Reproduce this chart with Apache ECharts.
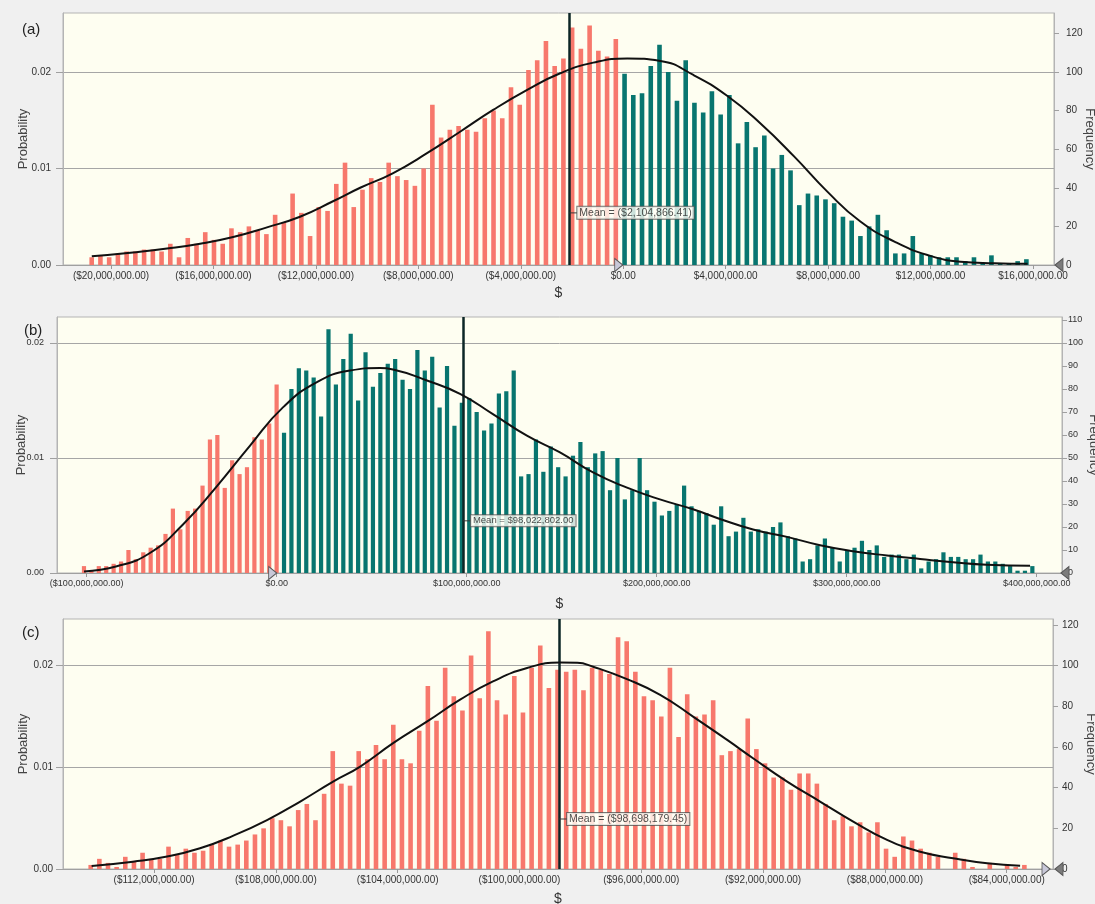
<!DOCTYPE html>
<html>
<head>
<meta charset="utf-8">
<script src="https://cdn.jsdelivr.net/npm/echarts@6/dist/echarts.min.js"></script>
<style>
  html, body { margin: 0; padding: 0; background: #f0f0f0; }
  #chart { width: 1095px; height: 904px; }
</style>
</head>
<body>
<div id="chart"></div>
<script>
// ---- data (x values in $ millions, counts out of 5000 trials) ----
const TRIALS = 5000;
const probTicks = [0, 0.01, 0.02];

// panel (a)
const freqA = [4, 5, 4, 6, 7, 7, 8, 8, 7, 11, 4, 14, 11, 17, 13, 11, 19, 17, 20, 18,
  16, 26, 22, 37, 27, 15, 30, 28, 42, 53, 30, 39, 45, 43, 53, 46, 44, 41, 50, 83,
  66, 70, 72, 70, 69, 76, 80, 76, 92, 83, 101, 106, 116, 103, 107, 123, 112, 124, 111, 108,
  117, 99, 88, 89, 103, 114, 100, 85, 106, 84, 79, 90, 78, 88, 63, 74, 61, 67, 50, 57,
  49, 31, 37, 36, 34, 32, 25, 23, 15, 20, 26, 18, 6, 6, 15, 6, 5, 4, 4, 4,
  2, 4, 1, 5, 1, 1, 2, 3];
const binsA = [-20.754, 15.742];        // first / last bin centre
const redBinsA = 61;                     // bins left of $0.00
const curveA = [[-20.75, 4.5], [-19.14, 6.5], [-17.81, 8.5], [-16.52, 11], [-15.23, 14.5],
  [-13.91, 19.5], [-12.62, 25], [-11.33, 33], [-10.27, 40], [-9.0, 47.5], [-7.66, 57.9],
  [-6.37, 69], [-5.08, 80.3], [-3.75, 90.7], [-2.46, 99.3], [-1.17, 104.8], [0.16, 107],
  [1.45, 105.7], [2.74, 98.4], [4.07, 87.5], [5.35, 73.4], [6.68, 56.1], [7.97, 38],
  [9.26, 22.5], [10.59, 12.1], [11.88, 5.2], [13.17, 1.7], [14.5, 0.9], [15.79, 0.6]];
const meanA = -2104866.41;
const xTicksA = [-20, -16, -12, -8, -4, 0, 4, 8, 12, 16];
const fTicksA = [0, 20, 40, 60, 80, 100, 120];

// panel (b)
const freqB = [3, 1, 3, 3, 4, 5, 10, 6, 9, 11, 12, 17, 28, 19, 27, 28, 38, 58, 60, 37,
  49, 43, 46, 59, 58, 65, 82, 61, 80, 89, 88, 85, 68, 106, 82, 93, 104, 75, 96, 81,
  87, 91, 93, 84, 80, 97, 88, 94, 72, 90, 64, 74, 76, 70, 62, 65, 78, 79, 88, 42,
  43, 58, 44, 55, 46, 42, 51, 57, 46, 52, 53, 36, 50, 32, 36, 50, 36, 31, 25, 27,
  30, 38, 29, 27, 26, 21, 29, 16, 18, 24, 18, 19, 18, 20, 22, 16, 15, 5, 6, 12,
  15, 11, 5, 10, 11, 14, 10, 12, 7, 8, 8, 6, 8, 2, 5, 6, 9, 7, 7, 6,
  6, 8, 5, 5, 4, 3, 1, 1, 3];
const binsB = [-101.4, 397.7];
const redBinsB = 27;
const curveB = [[-101.4, 0.7], [-84.1, 2.9], [-66.7, 8.7], [-49.3, 21.1], [-31.4, 37.8],
  [-14.1, 55.3], [3.3, 72], [21.2, 83], [38.6, 88], [54.4, 89.1], [61.2, 88.5], [79.1, 83.7],
  [96.5, 77.9], [113.8, 69.1], [131.7, 59.7], [149.1, 52.4], [166.5, 43.7], [184.4, 37.1],
  [201.7, 32], [219.1, 27.7], [233.3, 23.5], [250.7, 18.9], [268.6, 15.7], [286, 12.1],
  [303.3, 9.5], [321.2, 7.6], [338.6, 6.1], [356, 4.7], [373.8, 3.6], [396.5, 3.2]];
const meanB = 98022802.00;
const xTicksB = [-100, 0, 100, 200, 300, 400];
const fTicksB = [0, 10, 20, 30, 40, 50, 60, 70, 80, 90, 100, 110];

// panel (c)
const freqC = [2, 5, 3, 1, 6, 4, 8, 5, 5, 11, 7, 10, 8, 9, 12, 14, 11, 12, 14, 17,
  20, 25, 24, 21, 29, 32, 24, 37, 58, 42, 41, 58, 54, 61, 54, 71, 54, 52, 68, 90,
  73, 99, 85, 78, 105, 84, 117, 83, 76, 95, 77, 99, 110, 89, 98, 97, 98, 88, 99, 98,
  96, 114, 112, 97, 85, 83, 75, 99, 65, 86, 75, 76, 83, 56, 58, 59, 74, 59, 52, 45,
  45, 39, 47, 47, 42, 32, 24, 26, 21, 23, 18, 23, 10, 6, 16, 14, 10, 8, 6, 0,
  8, 5, 1, 0, 3, 0, 2, 1, 2];
const binsC = [-114.08, -83.42];
const redBinsC = 109;
const curveC = [[-114.05, 1.5], [-112.69, 3.6], [-111.57, 6.1], [-110.49, 10.2], [-109.41, 16.3],
  [-108.29, 24.1], [-107.2, 33.2], [-106.12, 43], [-105.23, 50.4], [-104.15, 61.9],
  [-103.03, 72.6], [-101.95, 83.3], [-100.87, 92.3], [-99.75, 98.9], [-98.67, 101.6],
  [-98.1, 101.5], [-97.58, 99.5], [-96.47, 93.4], [-95.38, 85.7], [-94.3, 75], [-93.18, 63.5],
  [-92.33, 54.5], [-91.21, 43], [-90.13, 33.2], [-89.04, 23.3], [-87.93, 14.3], [-86.84, 8.5],
  [-85.76, 5.3], [-84.64, 2.8], [-83.56, 1.6]];
const meanC = -98698179.45;
const xTicksC = [-112, -108, -104, -100, -96, -92, -88, -84];
const fTicksC = [0, 20, 40, 60, 80, 100, 120];

// ---- layout ----
const RED = '#f7786c';
const TEAL = '#08756f';
const FONT = 'Liberation Sans';

const panels = [
  { tag: '(a)', tagPos: [17, 17], freq: freqA, bins: binsA, red: redBinsA, curve: curveA,
    mean: meanA, meanY: 27, xTicks: xTicksA, fTicks: fTicksA,
    xMin: -21.874, xMax: 16.82, fMax: 130.5,
    grid: { left: 63, right: 41, top: 13, height: 252 },
    fs: 10, barW: 4.6, xGap: 21, yGap: 33, yMargin: 12, rMargin: 12, rGap: 29,
    grabbers: [{ x: 0, dir: 'r', off: -4.5 }, { x: 16.82, dir: 'l', off: 5 }] },
  { tag: '(b)', tagPos: [19, 318], freq: freqB, bins: binsB, red: redBinsB, curve: curveB,
    mean: meanB, meanY: 22.7, xTicks: xTicksB, fTicks: fTicksB,
    xMin: -115.6, xMax: 413.3, fMax: 111.3,
    grid: { left: 57, right: 33, top: 317, height: 256 },
    fs: 9, barW: 4.2, xGap: 24, yGap: 29, yMargin: 13, rMargin: 6, rGap: 25,
    grabbers: [{ x: 0, dir: 'r', off: -4 }, { x: 413.3, dir: 'l', off: 3 }] },
  { tag: '(c)', tagPos: [17, 620], freq: freqC, bins: binsC, red: redBinsC, curve: curveC,
    mean: meanC, meanY: 24.6, xTicks: xTicksC, fTicks: fTicksC,
    xMin: -114.99, xMax: -82.48, fMax: 123,
    grid: { left: 63, right: 42, top: 619, height: 250 },
    fs: 10, barW: 4.6, xGap: 23, yGap: 33, yMargin: 10, rMargin: 9, rGap: 31,
    grabbers: [{ x: -82.48, dir: 'r', off: -7 }, { x: -82.48, dir: 'l', off: 6 }] }
];

function money(v) {
  const s = Math.abs(v).toLocaleString('en-US', { minimumFractionDigits: 2, maximumFractionDigits: 2 });
  return v < 0 ? '($' + s + ')' : '$' + s;
}

const option = {
  backgroundColor: '#f0f0f0',
  animation: false,
  textStyle: { fontFamily: FONT },
  title: [], grid: [], xAxis: [], yAxis: [], series: []
};

panels.forEach((p, i) => {
  const n = p.freq.length;
  const step = (p.bins[1] - p.bins[0]) / (n - 1);
  const barData = p.freq.map((f, k) => [(p.bins[0] + k * step) * 1e6, f]);

  option.title.push({
    text: p.tag, left: p.tagPos[0], top: p.tagPos[1],
    textStyle: { fontSize: 15, fontWeight: 'normal', color: '#222', fontFamily: FONT }
  });

  option.grid.push(Object.assign({
    show: true, backgroundColor: '#fefef1', borderColor: '#b4b4b4', borderWidth: 1,
    containLabel: false, outerBoundsMode: 'none'
  }, p.grid));

  option.xAxis.push({
    type: 'value', gridIndex: i,
    min: p.xMin * 1e6, max: p.xMax * 1e6,
    name: '$', nameLocation: 'middle', nameGap: p.xGap, nameMoveOverlap: false,
    nameTextStyle: { fontSize: 14, color: '#333', fontFamily: FONT },
    axisLine: { onZero: false, lineStyle: { color: '#a0a0a0' } },
    axisTick: { customValues: p.xTicks.map(t => t * 1e6), length: 4, lineStyle: { color: '#999' } },
    axisLabel: {
      customValues: p.xTicks.map(t => t * 1e6), formatter: money,
      fontSize: p.fs, color: '#333', margin: 6, fontFamily: FONT
    },
    splitLine: { show: false }
  });

  // left: probability
  option.yAxis.push({
    type: 'value', gridIndex: i, position: 'left',
    min: 0, max: p.fMax / TRIALS, interval: 0.01,
    name: 'Probability', nameLocation: 'middle', nameRotate: 90, nameGap: p.yGap,
    nameMoveOverlap: false,
    nameTextStyle: { fontSize: 13, color: '#444', fontFamily: FONT },
    axisLine: { show: true, onZero: false, lineStyle: { color: '#b4b4b4' } },
    axisTick: { show: true, customValues: probTicks, length: 7, lineStyle: { color: '#a0a0a0' } },
    axisLabel: {
      customValues: probTicks, formatter: v => v.toFixed(2),
      fontSize: p.fs, color: '#333', margin: p.yMargin, fontFamily: FONT
    },
    splitLine: { show: true, lineStyle: { color: '#a6a6a6', width: 1 } }
  });

  // right: frequency
  option.yAxis.push({
    type: 'value', gridIndex: i, position: 'right',
    min: 0, max: p.fMax, interval: p.fTicks[1],
    name: 'Frequency', nameLocation: 'middle', nameRotate: -90, nameGap: p.rGap,
    nameMoveOverlap: false,
    nameTextStyle: { fontSize: 13, color: '#444', fontFamily: FONT },
    axisLine: { show: true, onZero: false, lineStyle: { color: '#b4b4b4' } },
    axisTick: { show: true, customValues: p.fTicks, length: 5, lineStyle: { color: '#a0a0a0' } },
    axisLabel: {
      customValues: p.fTicks, fontSize: p.fs, color: '#333', margin: p.rMargin, fontFamily: FONT
    },
    splitLine: { show: false }
  });

  const fAxis = 2 * i + 1;

  option.series.push({
    type: 'bar', xAxisIndex: i, yAxisIndex: fAxis,
    data: barData, barWidth: p.barW,
    itemStyle: { color: params => (params.dataIndex < p.red ? RED : TEAL) },
    markLine: {
      silent: true, symbol: 'none', label: { show: false },
      lineStyle: { color: '#0c2626', width: 2.5, type: 'solid' },
      data: [{ xAxis: p.mean }]
    },
    markPoint: {
      silent: true, label: { show: false },
      data: p.grabbers.map(g => ({
        coord: [g.x * 1e6, 0],
        symbol: g.dir === 'r' ? 'path://M0,0L9,6.5L0,13Z' : 'path://M9,0L0,6.5L9,13Z',
        symbolSize: [8, 13],
        symbolOffset: [g.off, 0],
        itemStyle: {
          color: g.dir === 'r' ? '#c8c8d8' : '#7c7c7c',
          borderColor: '#555', borderWidth: 1
        }
      }))
    }
  });

  option.series.push({
    type: 'line', xAxisIndex: i, yAxisIndex: fAxis,
    data: p.curve.map(([v, f]) => [v * 1e6, f]),
    smooth: true, showSymbol: false, symbol: 'none',
    lineStyle: { color: '#111', width: 2 }, z: 5, silent: true
  });

  // mean label, with the short tie back to the mean line
  option.series.push({
    type: 'scatter', xAxisIndex: i, yAxisIndex: fAxis,
    data: [[p.mean, p.meanY]], symbol: 'rect', symbolSize: [8, 1.2], symbolOffset: [4, 0],
    itemStyle: { color: '#333' }, silent: true, z: 10,
    label: {
      show: true, position: 'right', distance: 0,
      formatter: 'Mean = ' + money(p.mean),
      fontSize: p.fs + 0.5, color: '#222', fontFamily: FONT,
      backgroundColor: '#fffff8', borderColor: '#555', borderWidth: 1,
      padding: [1, 2, 0, 2]
    }
  });
});

const chart = echarts.init(document.getElementById('chart'), null, { renderer: 'canvas' });
chart.setOption(option);
</script>
</body>
</html>
